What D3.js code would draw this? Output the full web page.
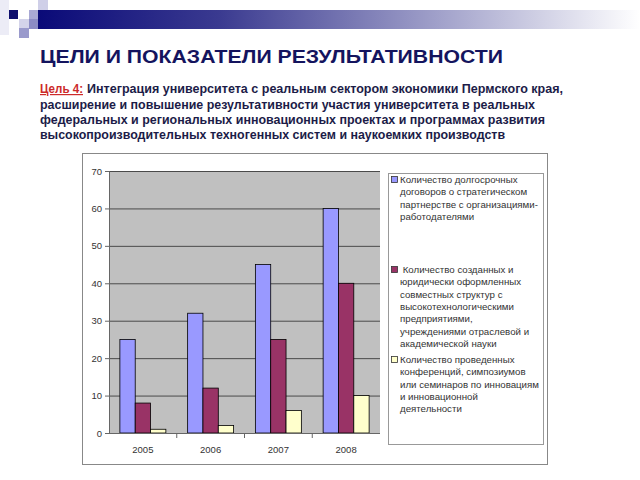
<!DOCTYPE html>
<html>
<head>
<meta charset="utf-8">
<script src="https://cdn.jsdelivr.net/npm/d3@7"></script>
<style>
  body { margin: 0; background: #fff; }
  svg { display: block; font-family: "Liberation Sans", Arial, sans-serif; }
</style>
</head>
<body>
<div class="slide"></div>
<script>
const years = ["2005", "2006", "2007", "2008"];
const contracts = [25, 32, 45, 60];
const structures = [8, 12, 25, 40];
const conferences = [1, 2, 6, 10];
const yTicks = [0, 10, 20, 30, 40, 50, 60, 70];

const seriesNames = [
  ["Количество долгосрочных", "договоров о стратегическом", "партнерстве с организациями-", "работодателями"],
  [" Количество созданных и", "юридически оформленных", "совместных структур с", "высокотехнологическими", "предприятиями,", "учреждениями отраслевой и", "академической науки"],
  ["Количество проведенных", "конференций, симпозиумов", "или семинаров по инновациям", "и инновационной", "деятельности"]
];
const colors = ["#9999ff", "#993366", "#ffffcc"];
const series = [contracts, structures, conferences];

const w = 640, h = 480;
const svg = d3.select('.slide').append('svg').attr('width', w).attr('height', h);

// header decoration
const defs = svg.append('defs');
const grad = defs.append('linearGradient').attr('id', 'hdr');
grad.append('stop').attr('offset', '0%').attr('stop-color', '#0a0a78');
grad.append('stop').attr('offset', '30%').attr('stop-color', '#3a3a90');
grad.append('stop').attr('offset', '100%').attr('stop-color', '#ffffff');
svg.append('rect').attr('x', 38).attr('y', 10).attr('width', 602).attr('height', 19).attr('fill', 'url(#hdr)');
const squares = [
  [0, 0, 9, 35, '#ececf6'], [19, 19, 10, 10, '#d4d4ea'], [29, 10, 9, 10, '#a8a8d4'],
  [38, 0, 10, 10, '#cfcfe8'], [19, 28, 10, 10, '#9a9acc'], [29, 19, 9, 10, '#8c8cc4'],
  [9, 10, 9, 9, '#10106e']
];
squares.forEach(s => svg.append('rect').attr('x', s[0]).attr('y', s[1]).attr('width', s[2]).attr('height', s[3]).attr('fill', s[4]));

// title
svg.append('text').attr('x', 40).attr('y', 63)
  .attr('font-size', 18.5).attr('font-weight', 'bold').attr('fill', '#14145e')
  .attr('textLength', 463).attr('lengthAdjust', 'spacingAndGlyphs')
  .text('ЦЕЛИ И ПОКАЗАТЕЛИ РЕЗУЛЬТАТИВНОСТИ');

// goal text
const goalLines = [
  "Интеграция университета с реальным сектором экономики Пермского края,",
  "расширение и повышение результативности участия университета в реальных",
  "федеральных и региональных инновационных проектах и программах развития",
  "высокопроизводительных техногенных систем и наукоемких производств"
];
const lineEnds = [563, 535, 545, 505];
const baselines = [93, 109, 124, 139];
svg.append('text').attr('x', 40).attr('y', baselines[0])
  .attr('font-size', 12).attr('font-weight', 'bold').attr('fill', '#cc2a2a')
  .attr('textLength', 43).attr('lengthAdjust', 'spacingAndGlyphs')
  .attr('text-decoration', 'underline').text('Цель 4:');
goalLines.forEach((t, i) => {
  const x0 = i === 0 ? 87 : 40;
  svg.append('text').attr('x', x0).attr('y', baselines[i])
    .attr('font-size', 12).attr('font-weight', 'bold').attr('fill', '#1c1c48')
    .attr('textLength', lineEnds[i] - x0).attr('lengthAdjust', 'spacingAndGlyphs')
    .text(t);
});

// chart frame
svg.append('rect').attr('x', 82.5).attr('y', 153.5).attr('width', 465).attr('height', 311)
  .attr('fill', '#fff').attr('stroke', '#888');

const plotL = 109, plotR = 380, plotT = 171, plotB = 433;
const x = d3.scaleBand().domain(years).range([plotL, plotR]);
const xs = d3.scaleBand().domain([0, 1, 2]).range([0, x.bandwidth()]).paddingOuter(0.71).paddingInner(0);
const y = d3.scaleLinear().domain([0, 70]).range([plotB, plotT]);

svg.append('rect').attr('x', plotL).attr('y', plotT).attr('width', plotR - plotL).attr('height', plotB - plotT)
  .attr('fill', '#c0c0c0');

svg.selectAll('line.grid').data(yTicks.slice(1)).enter().append('line')
  .attr('x1', plotL).attr('x2', plotR).attr('y1', d => y(d) + 0.5).attr('y2', d => y(d) + 0.5)
  .attr('stroke', '#4a4a4a').attr('stroke-width', 1);

// bars
series.forEach((vals, si) => {
  svg.selectAll('rect.s' + si).data(vals).enter().append('rect')
    .attr('x', (d, i) => x(years[i]) + xs(si))
    .attr('y', d => y(d))
    .attr('width', xs.bandwidth())
    .attr('height', d => plotB - y(d))
    .attr('fill', colors[si]).attr('stroke', '#000').attr('stroke-width', 0.8);
});

// axes
const yAxis = d3.axisLeft(y).tickValues(yTicks).tickSize(4).tickPadding(3);
const gy = svg.append('g').attr('transform', `translate(${plotL},0)`).call(yAxis);
gy.select('.domain').attr('stroke', '#666');
gy.selectAll('line').attr('stroke', '#666');
gy.selectAll('text').attr('font-size', 9.5).attr('fill', '#333').attr('font-family', '"Liberation Sans", Arial, sans-serif');

const gx = svg.append('g').attr('transform', `translate(0,${plotB})`);
gx.append('line').attr('x1', plotL).attr('x2', plotR).attr('y1', 0.5).attr('y2', 0.5).attr('stroke', '#666');
gx.selectAll('line.tk').data(years.slice(1)).enter().append('line')
  .attr('x1', d => x(d)).attr('x2', d => x(d)).attr('y1', 0).attr('y2', 5).attr('stroke', '#666');
gx.selectAll('text').data(years).enter().append('text')
  .attr('x', d => x(d) + x.bandwidth() / 2).attr('y', 20)
  .attr('text-anchor', 'middle').attr('font-size', 9.5).attr('fill', '#333').text(d => d);

// legend
svg.append('rect').attr('x', 388.5).attr('y', 173.5).attr('width', 155).attr('height', 271)
  .attr('fill', '#fff').attr('stroke', '#999');
const legendStarts = [183, 273, 363];
const lineH = 12.3;
seriesNames.forEach((lines, si) => {
  svg.append('rect').attr('x', 391.5).attr('y', legendStarts[si] - 6.5).attr('width', 6).attr('height', 6)
    .attr('fill', colors[si]).attr('stroke', '#333').attr('stroke-width', 0.8);
  lines.forEach((t, li) => {
    svg.append('text').attr('x', 400).attr('y', legendStarts[si] + li * lineH)
      .attr('font-size', 9.7).attr('fill', '#333').attr('xml:space', 'preserve').text(t);
  });
});
</script>
</body>
</html>
